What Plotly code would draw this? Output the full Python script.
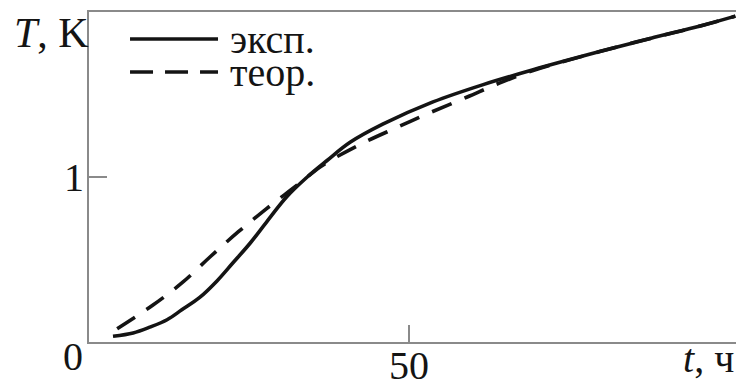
import plotly.graph_objects as go

# experimental curve (эксп.)
t_exp = [3.75, 6.9, 9.5, 12.2, 14.5, 17.3, 20.0, 22.5, 25.2, 27.8, 30.9, 34.1, 37.2,
         40.8, 45.9, 53.75, 61.6, 69.4, 79.8, 87.7, 95.5, 101.0]
T_exp = [0.035, 0.055, 0.09, 0.135, 0.195, 0.27, 0.37, 0.48, 0.60, 0.73, 0.88, 1.0, 1.10,
         1.21, 1.32, 1.455, 1.56, 1.65, 1.76, 1.84, 1.915, 1.975]

# theoretical curve (теор.)
t_theor = [4.4, 10.0, 14.7, 18.9, 23.3, 27.8, 32.5, 36.1, 37.7, 42.8, 48.1, 53.3, 59.1,
           64.2, 69.4, 79.8, 87.7, 95.5, 101.0]
T_theor = [0.08, 0.224, 0.364, 0.515, 0.667, 0.81, 0.95, 1.06, 1.10, 1.206, 1.30, 1.39, 1.485,
           1.57, 1.645, 1.76, 1.84, 1.915, 1.975]

x_ticks = [50]
y_ticks = [1]
legend_names = ["эксп.", "теор."]

FONT = "Liberation Serif"
FS = 40
INK = "#141414"
AXC = "#8a8a8a"

fig = go.Figure()
fig.add_trace(go.Scatter(x=t_exp, y=T_exp, mode="lines", name=legend_names[0],
                         line=dict(color=INK, width=3.6, shape="spline", smoothing=1.0)))
fig.add_trace(go.Scatter(x=t_theor, y=T_theor, mode="lines", name=legend_names[1],
                         line=dict(color=INK, width=3.6, dash="21px,14px", shape="spline", smoothing=1.0)))

fig.update_layout(
    width=736, height=380,
    margin=dict(l=89, r=0, t=12, b=38, autoexpand=False),
    paper_bgcolor="white", plot_bgcolor="white",
    showlegend=False,
    font=dict(family=FONT, size=FS, color=INK),
)
fig.update_xaxes(range=[0, 101.1], showgrid=False, zeroline=False, automargin=False,
                 showline=True, linecolor=AXC, linewidth=2, mirror=True,
                 tickvals=x_ticks, ticktext=[str(v) for v in x_ticks],
                 ticks="inside", ticklen=17, tickwidth=2, tickcolor=AXC,
                 ticklabelstandoff=-13,
                 tickfont=dict(family=FONT, size=FS, color=INK))
fig.update_yaxes(range=[0, 2.0], showgrid=False, zeroline=False, automargin=False,
                 showline=True, linecolor=AXC, linewidth=2, mirror=False,
                 tickvals=y_ticks, ticktext=[str(v) for v in y_ticks],
                 ticks="inside", ticklen=18, tickwidth=2, tickcolor=AXC,
                 ticklabelstandoff=-5,
                 tickfont=dict(family=FONT, size=FS, color=INK))

# legend drawn by hand (long line samples)
fig.add_shape(type="line", xref="paper", yref="paper", x0=0.0634, x1=0.1994, y0=0.918, y1=0.918,
              line=dict(color=INK, width=3.6))
fig.add_shape(type="line", xref="paper", yref="paper", x0=0.0634, x1=0.1994, y0=0.818, y1=0.818,
              line=dict(color=INK, width=3.6, dash="23px,12px"))
fig.add_annotation(xref="paper", yref="paper", x=0.207, y=0.918, text=legend_names[0],
                   showarrow=False, xanchor="left", yanchor="middle", align="left", xshift=5,
                   font=dict(family=FONT, size=FS, color=INK))
fig.add_annotation(xref="paper", yref="paper", x=0.207, y=0.818, text=legend_names[1],
                   showarrow=False, xanchor="left", yanchor="middle", align="left", xshift=5,
                   font=dict(family=FONT, size=FS, color=INK))

# axis titles and corner zero
fig.add_annotation(xref="paper", yref="paper", x=0, y=1, text="<i>T</i>, K",
                   showarrow=False, xanchor="right", yanchor="top", xshift=2, yshift=4,
                   font=dict(family=FONT, size=42, color=INK))
fig.add_annotation(xref="paper", yref="paper", x=1, y=0, text="<i>t</i>, ч",
                   showarrow=False, xanchor="right", yanchor="top", xshift=0, yshift=8,
                   font=dict(family=FONT, size=FS, color=INK))
fig.add_annotation(xref="paper", yref="paper", x=0, y=0, text="0",
                   showarrow=False, xanchor="center", yanchor="top", xshift=-16, yshift=10,
                   font=dict(family=FONT, size=FS, color=INK))

fig.write_html("out.html")
